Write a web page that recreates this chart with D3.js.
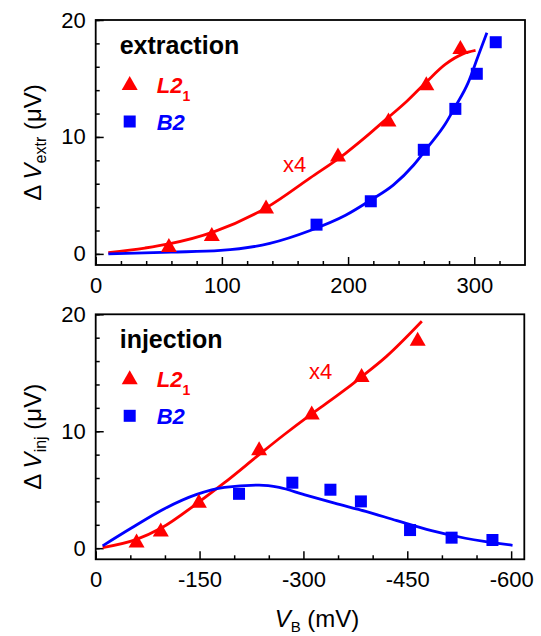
<!DOCTYPE html>
<html>
<head>
<meta charset="utf-8">
<script src="https://cdn.jsdelivr.net/npm/d3@7"></script>
<style>
  body { margin: 0; background: #fff; }
  svg { display: block; font-family: "Liberation Sans", Arial, sans-serif; }
</style>
</head>
<body>
<div id="chart"></div>
<script>
// extraction panel (top)
const extrL21X = [58, 92, 135, 192, 232, 262, 289];
const extrL21Y = [0.75, 1.7, 4.05, 8.5, 11.5, 14.6, 17.7];
const extrB2X = [175, 218, 260, 285, 302, 317];
const extrB2Y = [2.5, 4.5, 8.9, 12.4, 15.4, 18.1];
const extrL21FitX = [10, 39, 58, 94, 136, 170, 198, 214, 230, 247, 262, 277, 291, 301];
const extrL21FitY = [0.1, 0.5, 0.85, 1.9, 4.0, 6.5, 8.6, 10.0, 11.5, 13.1, 14.7, 16.2, 17.1, 17.4];
const extrB2FitX = [10, 60, 99, 138, 170, 198, 218, 236, 252, 263, 277, 285, 295, 303, 310];
const extrB2FitY = [0.0, 0.15, 0.3, 0.9, 2.0, 3.3, 4.6, 5.9, 7.6, 9.1, 11.1, 12.6, 14.6, 16.9, 18.9];

// injection panel (bottom)
const injL21X = [-59, -94, -149, -236, -312, -384, -465];
const injL21Y = [0.65, 1.6, 4.05, 8.55, 11.6, 14.8, 17.9];
const injB2X = [-207, -284, -339, -383, -454, -514, -573];
const injB2Y = [4.65, 5.6, 5.0, 4.0, 1.55, 0.9, 0.7];
const injL21FitX = [-10, -59, -94, -149, -186, -236, -272, -310, -350, -385, -420, -471];
const injL21FitY = [0.05, 0.75, 1.7, 3.95, 5.6, 8.0, 9.7, 11.4, 13.1, 14.7, 16.4, 19.4];
const injB2FitX = [-10, -51, -100, -146, -186, -236, -265, -300, -345, -390, -435, -485, -534, -602];
const injB2FitY = [0.2, 1.7, 3.4, 4.6, 5.2, 5.4, 5.2, 4.6, 3.85, 3.15, 2.35, 1.5, 0.85, 0.25];

const extrTicksX = [0, 100, 200, 300];
const injTicksX = [0, -150, -300, -450, -600];
const ticksY = [0, 10, 20];

const RED = '#ff0000', BLUE = '#0000ff';
const FONT = '"Liberation Sans", Arial, sans-serif';

const svg = d3.select('#chart').append('svg')
  .attr('width', 541)
  .attr('height', 636);

svg.append('rect').attr('width', 541).attr('height', 636).attr('fill', '#fff');

function triPath(cx, cy) {
  const w = 16, h = 14;
  return `M${cx - w / 2},${cy + h / 2}L${cx + w / 2},${cy + h / 2}L${cx},${cy - h / 2}Z`;
}

function drawPanel(o) {
  const x = d3.scaleLinear().domain(o.xDomain).range([o.left, o.right]);
  const y = d3.scaleLinear().domain([-0.95, 20]).range([o.bottom, o.top]);
  const g = svg.append('g');

  // minor ticks
  g.append('g')
    .attr('transform', `translate(0,${o.bottom})`)
    .call(d3.axisBottom(x).tickValues(o.minorX).tickSize(-4).tickFormat(''))
    .call(s => s.select('.domain').remove());
  g.append('g')
    .attr('transform', `translate(${o.left},0)`)
    .call(d3.axisLeft(y).tickValues(d3.range(0, 21, 2)).tickSize(-4).tickFormat(''))
    .call(s => s.select('.domain').remove());

  // major ticks
  const ax = g.append('g')
    .attr('transform', `translate(0,${o.bottom})`)
    .call(d3.axisBottom(x).tickValues(o.ticksX).tickSize(-8).tickPadding(12)
      .tickFormat(d => String(d)));
  ax.select('.domain').remove();
  ax.selectAll('text').attr('font-size', 22).attr('font-family', FONT).attr('fill', '#000');

  const ay = g.append('g')
    .attr('transform', `translate(${o.left},0)`)
    .call(d3.axisLeft(y).tickValues(ticksY).tickSize(-8).tickPadding(10));
  ay.select('.domain').remove();
  ay.selectAll('text').attr('font-size', 22).attr('font-family', FONT).attr('fill', '#000');

  g.selectAll('.tick line').attr('stroke', '#000').attr('stroke-width', 1.5);

  // frame
  g.append('rect')
    .attr('x', o.left).attr('y', o.top)
    .attr('width', o.right - o.left).attr('height', o.bottom - o.top)
    .attr('fill', 'none').attr('stroke', '#000').attr('stroke-width', 1.8);

  const line = d3.line().x(d => x(d[0])).y(d => y(d[1])).curve(d3.curveMonotoneX);

  g.append('path')
    .datum(d3.zip(o.redFitX, o.redFitY))
    .attr('d', line).attr('fill', 'none').attr('stroke', RED).attr('stroke-width', 2.8);
  g.append('path')
    .datum(d3.zip(o.blueFitX, o.blueFitY))
    .attr('d', line).attr('fill', 'none').attr('stroke', BLUE).attr('stroke-width', 2.8);

  g.selectAll('.tri').data(d3.zip(o.triX, o.triY)).enter()
    .append('path').attr('class', 'tri')
    .attr('d', d => triPath(x(d[0]), y(d[1])))
    .attr('fill', RED);

  g.selectAll('.sq').data(d3.zip(o.sqX, o.sqY)).enter()
    .append('rect').attr('class', 'sq')
    .attr('x', d => x(d[0]) - 6).attr('y', d => y(d[1]) - 6)
    .attr('width', 12).attr('height', 12)
    .attr('fill', BLUE);

  // x4 annotation
  g.append('text')
    .attr('x', x(o.x4[0])).attr('y', y(o.x4[1]))
    .attr('font-size', 22).attr('font-family', FONT).attr('fill', RED)
    .text('x4');

  // legend
  const lx = o.left;
  g.append('text')
    .attr('x', lx + 24).attr('y', o.top + 33.5)
    .attr('font-size', 25).attr('font-weight', 'bold').attr('font-family', FONT)
    .text(o.title);
  g.append('path').attr('d', triPath(lx + 34, o.top + 63)).attr('fill', RED);
  const t1 = g.append('text')
    .attr('x', lx + 61).attr('y', o.top + 72.5)
    .attr('font-size', 22).attr('font-weight', 'bold').attr('font-style', 'italic')
    .attr('font-family', FONT).attr('fill', RED);
  t1.append('tspan').text('L2');
  t1.append('tspan').attr('dy', 8).attr('font-size', 14).attr('font-style', 'normal').text('1');
  g.append('rect')
    .attr('x', lx + 28).attr('y', o.top + 95.5).attr('width', 12).attr('height', 12)
    .attr('fill', BLUE);
  g.append('text')
    .attr('x', lx + 61).attr('y', o.top + 109.5)
    .attr('font-size', 22).attr('font-weight', 'bold').attr('font-style', 'italic')
    .attr('font-family', FONT).attr('fill', BLUE)
    .text('B2');

  // y title
  const cy = (o.top + o.bottom) / 2;
  const yt = g.append('text')
    .attr('transform', `translate(41,${cy}) rotate(-90)`)
    .attr('text-anchor', 'middle')
    .attr('font-size', 24).attr('font-family', FONT).attr('fill', '#000');
  yt.append('tspan').text('\u0394 ');
  yt.append('tspan').attr('font-style', 'italic').text('V');
  yt.append('tspan').attr('dy', 5).attr('font-size', 16).text(o.sub);
  yt.append('tspan').attr('dy', -5).text(' (\u03bcV)');

  return x;
}

drawPanel({
  left: 95.7, right: 525, top: 20, bottom: 265,
  xDomain: [0, 340.2],
  ticksX: extrTicksX,
  minorX: d3.range(20, 340, 20).filter(v => v % 100 !== 0),
  triX: extrL21X, triY: extrL21Y, sqX: extrB2X, sqY: extrB2Y,
  redFitX: extrL21FitX, redFitY: extrL21FitY,
  blueFitX: extrB2FitX, blueFitY: extrB2FitY,
  x4: [148.5, 7.0],
  title: 'extraction', sub: 'extr'
});

drawPanel({
  left: 95.7, right: 524.3, top: 314.3, bottom: 559.3,
  xDomain: [0, -619],
  ticksX: injTicksX,
  minorX: d3.range(-50, -619, -50).filter(v => v % 150 !== 0),
  triX: injL21X, triY: injL21Y, sqX: injB2X, sqY: injB2Y,
  redFitX: injL21FitX, redFitY: injL21FitY,
  blueFitX: injB2FitX, blueFitY: injB2FitY,
  x4: [-308, 14.5],
  title: 'injection', sub: 'inj'
});

// x title
const xt = svg.append('text')
  .attr('x', 317).attr('y', 627)
  .attr('text-anchor', 'middle')
  .attr('font-size', 24).attr('font-family', FONT).attr('fill', '#000');
xt.append('tspan').attr('font-style', 'italic').text('V');
xt.append('tspan').attr('dy', 5).attr('font-size', 15).text('B');
xt.append('tspan').attr('dy', -5).text(' (mV)');
</script>
</body>
</html>
